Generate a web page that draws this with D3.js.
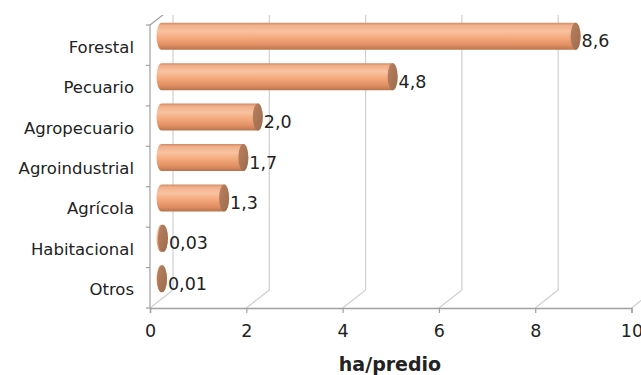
<!DOCTYPE html>
<html>
<head>
<meta charset="utf-8">
<script src="https://cdn.jsdelivr.net/npm/d3@7"></script>
<style>
  html, body { margin: 0; padding: 0; background: #fff; }
  svg { display: block; }
  text { font-family: "DejaVu Sans", sans-serif; fill: #222; }
</style>
</head>
<body>
<svg id="chart" width="641" height="375"></svg>
<script>
// Superficie media por predio según uso del suelo (ha/predio)
const categories = ["Forestal", "Pecuario", "Agropecuario", "Agroindustrial", "Agrícola", "Habitacional", "Otros"];
const values = [8.6, 4.8, 2.0, 1.7, 1.3, 0.03, 0.01];
const ticks = [0, 2, 4, 6, 8, 10];
const axisTitle = "ha/predio";

(function () {
const svg = d3.select("#chart");
const W = 641, H = 375;

// Front plane of the 3D box and its depth offset
const plotLeft = 150, plotRight = 631.5, plotTop = 25, plotBottom = 308;
const depth = { dx: 23, dy: -18 };
const mid = { dx: depth.dx / 2, dy: depth.dy / 2 };

const x = d3.scaleLinear().domain([0, 10]).range([plotLeft, plotRight]);
const y = d3.scaleBand().domain(categories).range([plotTop, plotBottom]).padding(0);

const decimalComma = v => (v >= 1 ? d3.format(".1f")(v) : d3.format(".2f")(v)).replace(".", ",");

const defs = svg.append("defs");
defs.append("clipPath").attr("id", "plotClip")
  .append("rect").attr("x", 0).attr("y", 15).attr("width", W).attr("height", H);

const bodyGrad = defs.append("linearGradient").attr("id", "bodyGrad")
  .attr("x1", 0).attr("y1", 0).attr("x2", 0).attr("y2", 1);
[["0%", "#d08a64"], ["10%", "#f0b08a"], ["32%", "#f9c2a0"], ["58%", "#f3a77a"], ["84%", "#de8d61"], ["100%", "#b7744d"]]
  .forEach(([o, c]) => bodyGrad.append("stop").attr("offset", o).attr("stop-color", c));

const capGrad = defs.append("linearGradient").attr("id", "capGrad")
  .attr("x1", 0).attr("y1", 0).attr("x2", 1).attr("y2", 1);
[["0%", "#b98261"], ["100%", "#9c6a4b"]]
  .forEach(([o, c]) => capGrad.append("stop").attr("offset", o).attr("stop-color", c));

const plot = svg.append("g").attr("clip-path", "url(#plotClip)");

// Back wall gridlines and floor diagonals
const gridColor = "#cfcfcf";
plot.selectAll(".vgrid").data(ticks).join("line")
  .attr("x1", d => x(d) + depth.dx).attr("x2", d => x(d) + depth.dx)
  .attr("y1", plotBottom + depth.dy).attr("y2", 0)
  .attr("stroke", gridColor).attr("stroke-width", 1.2);
plot.selectAll(".fgrid").data(ticks).join("line")
  .attr("x1", d => x(d)).attr("y1", plotBottom)
  .attr("x2", d => x(d) + depth.dx).attr("y2", plotBottom + depth.dy)
  .attr("stroke", gridColor).attr("stroke-width", 1.2);

// Left wall: front edge and top edge
const axisColor = "#a0a0a0";
plot.append("line")
  .attr("x1", plotLeft).attr("y1", plotTop).attr("x2", plotLeft + depth.dx).attr("y2", plotTop + depth.dy)
  .attr("stroke", axisColor).attr("stroke-width", 1.2);
svg.append("line")
  .attr("x1", plotLeft).attr("y1", plotTop).attr("x2", plotLeft).attr("y2", plotBottom)
  .attr("stroke", axisColor).attr("stroke-width", 1.2);

// Category tick marks on the left edge
const boundaries = categories.map(c => y(c)).concat([plotBottom]);
svg.selectAll(".ytick").data(boundaries).join("line")
  .attr("x1", plotLeft - 4).attr("x2", plotLeft).attr("y1", d => d).attr("y2", d => d)
  .attr("stroke", axisColor).attr("stroke-width", 1.2);

// Bottom axis
const xAxis = d3.axisBottom(x).tickValues(ticks).tickSize(5).tickPadding(12)
  .tickFormat(d => String(d));
const gx = svg.append("g").attr("transform", `translate(0,${plotBottom})`).call(xAxis);
gx.select(".domain").attr("stroke", axisColor).attr("stroke-width", 1.4);
gx.selectAll(".tick line").attr("stroke", axisColor).attr("stroke-width", 1.2);
gx.selectAll(".tick text").style("font-size", "17.5px").attr("fill", "#222")
  .style("font-family", "'DejaVu Sans', sans-serif");

// Cylinders
const ry = 13.5, rx = 5;
const bars = svg.append("g").selectAll("g").data(categories.map((c, i) => ({ c, v: values[i] }))).join("g");

bars.each(function (d) {
  const g = d3.select(this);
  const cy = y(d.c) + y.bandwidth() / 2 + mid.dy;
  const x0 = x(0) + mid.dx;
  const x1 = x(d.v) + mid.dx;
  const path = `M${x0},${cy - ry} L${x1},${cy - ry} A${rx},${ry} 0 0 1 ${x1},${cy + ry} L${x0},${cy + ry} A${rx},${ry} 0 0 1 ${x0},${cy - ry} Z`;
  g.append("path").attr("d", path).attr("fill", "url(#bodyGrad)");
  g.append("ellipse").attr("cx", x1).attr("cy", cy).attr("rx", rx).attr("ry", ry)
    .attr("fill", "url(#capGrad)");
  g.append("text")
    .attr("x", x1 + rx + 1).attr("y", cy + 5)
    .attr("dominant-baseline", "central")
    .style("font-size", "17.5px")
    .text(decimalComma(d.v));
});

// Category labels
svg.selectAll(".cat").data(categories).join("text")
  .attr("x", 134).attr("y", d => y(d) + y.bandwidth() / 2 + 2)
  .attr("text-anchor", "end").attr("dominant-baseline", "central")
  .style("font-size", "16.5px")
  .text(d => d);

// Axis title
svg.append("text")
  .attr("x", 390).attr("y", 371).attr("text-anchor", "middle")
  .style("font-size", "19px").style("font-weight", "bold")
  .text(axisTitle);
})();
</script>
</body>
</html>
